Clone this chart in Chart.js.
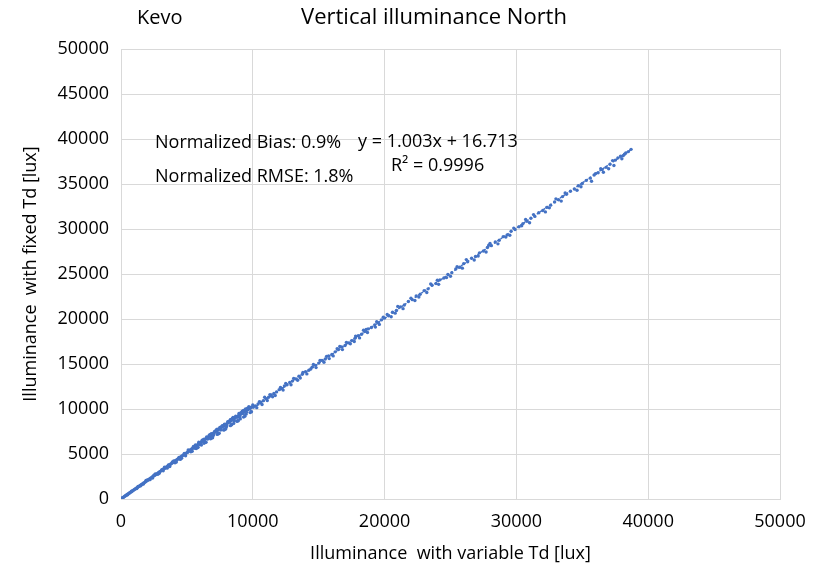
<!DOCTYPE html>
<html>
<head>
<meta charset="utf-8">
<script src="https://cdn.jsdelivr.net/npm/chart.js@4/dist/chart.umd.min.js"></script>
<style>
  html, body { margin: 0; padding: 0; background: #fff; }
  #wrap { width: 825px; height: 571px; position: relative; }
</style>
</head>
<body>
<div id="wrap"><canvas id="chart"></canvas></div>
<script>
// illuminance with variable Td [lux] (x) vs fixed Td [lux] (y)
const xVariable = [
  20, 60, 110, 150, 200, 260, 310, 370, 420, 480, 530, 590, 640, 700, 760, 810, 870, 930, 990, 1050,
  1110, 1170, 1230, 1290, 1350, 1410, 1480, 1540, 1600, 1670, 1730, 1800, 1860, 1930, 2000, 2070, 2140, 2210, 2280, 2350,
  2420, 2500, 2570, 2640, 2720, 2790, 2860, 2940, 3010, 3090, 3160, 3240, 3320, 3400, 3480, 3560, 3640, 3720, 3800, 3880,
  3960, 4040, 4120, 4210, 4290, 4370, 4460, 4540, 4630, 4710, 4800, 4890, 4970,
  1500, 2200, 2900, 3500, 4100, 4600, 3300, 4000, 2600, 1900,
  500, 800, 1200, 1300, 1700, 2000, 2400, 2500, 2800, 3100, 3200, 3600, 3700, 3900, 4200, 4400, 4500, 4800, 4900,
  5060, 5140, 5220, 5300, 5380, 5460, 5540, 5620, 5700, 5780, 5860, 5940, 6020, 6100, 6180, 6260, 6340, 6420, 6500, 6580,
  6660, 6740, 6820, 6900, 6980, 7060, 7140, 7220, 7300, 7380, 7460, 7540, 7620, 7700, 7780, 7860, 7940, 8020, 8100, 8180,
  8260, 8340, 8420, 8500, 8580, 8660, 8740, 8820, 8900, 8980, 9060, 9140, 9220, 9300, 9380, 9460, 9540, 9620, 9700, 9780,
  9860, 9940,
  5300, 5800, 6300, 6800, 7300, 7800, 8300, 8800, 9300, 9800, 6000, 7000, 8000, 9000, 9500, 8600, 7600, 6600, 5600,
  6500, 7500, 8500, 9200, 9700, 8200, 7200,
  5100, 5400, 5500, 5700, 5900, 6100, 6200, 6400, 6700, 6900, 7100, 7400, 7700, 7900, 8100, 8400, 8700, 8900, 9100, 9400,
  9600, 9900, 10000, 6300, 7300, 8300, 9300, 5200, 5950, 6850, 7650, 8450,
  5650, 6150, 6750, 7250, 7850, 8350, 8950, 9450, 9050, 8550, 7950, 7450, 6950, 6450, 5850,
  10050, 10200, 10400, 10600, 10800, 11000, 11200, 11400, 11600, 11800, 12000, 12200, 12400, 12600, 12800, 13000, 13250, 13500, 13750, 14000,
  14250, 14500, 14750, 15000, 15250, 15500, 15750, 16000, 16250, 16500, 16750, 17000, 17250, 17500, 17750, 18000, 18250, 18500, 18750, 19000,
  19250, 19500, 19750,
  10300, 10700, 11100, 11700, 12300, 12900, 13400, 14100, 14800, 15400, 16100, 16800, 17400, 18100, 18700, 19300, 10900, 12500, 14600, 16600, 18400,
  10500, 11300, 12100, 13100, 13800, 14400, 15100, 15600, 16400, 17100, 17800, 18600, 19400, 19900, 11500, 13600, 15800, 17700, 19600,
  20000, 20300, 20600, 20900, 21200, 21500, 21800, 22100, 22400, 22700, 23000, 23300, 23600, 23900, 24200, 24500, 24800, 25100, 25400, 25700,
  26000, 26300, 26600, 26900, 27200, 27500, 27800, 28100, 28400, 28700, 29000, 29300, 29600, 29900,
  20500, 21400, 22300, 23200, 24100, 25000, 25900, 26800, 27700, 28600, 29500, 21000, 23500, 26200, 28000,
  20200, 20800, 22000, 22600, 24000, 24700, 25500, 27100, 27900, 29200, 29800,
  30200, 30500, 30800, 31100, 31400, 31700, 32000, 32300, 32600, 32900, 33200, 33500, 33800, 34100, 34400, 34700, 35000, 35300, 35600, 35900,
  36200, 36500, 36800, 37100, 37300, 37500, 37700, 37900, 38100, 38300, 38700,
  31000, 32200, 33400, 34600, 35700, 36600, 37400, 38000, 30700, 33000,
  30400, 31300, 32500, 33700, 34900, 36000, 36400, 37000, 38200, 38500
];
const yFixed = [
  25, 70, 120, 165, 210, 275, 330, 385, 440, 500, 555, 610, 670, 720, 790, 840, 900, 960, 1020, 1090,
  1150, 1200, 1270, 1330, 1400, 1450, 1520, 1590, 1650, 1720, 1790, 1850, 1920, 1990, 2060, 2120, 2210, 2280, 2350, 2420,
  2500, 2570, 2650, 2720, 2790, 2880, 2950, 3020, 3100, 3180, 3260, 3330, 3410, 3500, 3580, 3660, 3750, 3830, 3920, 4000,
  4080, 4170, 4250, 4330, 4430, 4510, 4590, 4690, 4770, 4860, 4950, 5040, 5130,
  1480, 2150, 2850, 3430, 4020, 4520, 3520, 4230, 2780, 2050,
  470, 860, 1160, 1400, 1660, 2130, 2330, 2640, 2740, 3250, 3130, 3780, 3600, 4120, 4110, 4620, 4400, 5050, 4800,
  5230, 5300, 5410, 5470, 5580, 5650, 5750, 5810, 5920, 5990, 6100, 6160, 6260, 6330, 6430, 6500, 6600, 6680, 6770, 6840,
  6950, 7010, 7120, 7180, 7290, 7350, 7450, 7520, 7620, 7680, 7790, 7850, 7960, 8020, 8130, 8180, 8290, 8350, 8450, 8510,
  8620, 8680, 8780, 8830, 8940, 9000, 9100, 9150, 9260, 9310, 9410, 9470, 9560, 9620, 9710, 9770, 9860, 9920, 10010, 10070,
  10160, 10220,
  5250, 5700, 6200, 6700, 7180, 7650, 8150, 8620, 9100, 9600, 6050, 7050, 8020, 9050, 9450, 8700, 7700, 6680, 5650,
  6900, 7950, 9050, 9750, 10250, 8650, 7600,
  5450, 5300, 5850, 5600, 6300, 6000, 6550, 6300, 7100, 6800, 7500, 7250, 8150, 7750, 8600, 8250, 9200, 8700, 9600, 9200,
  10100, 9700, 10450, 6650, 7750, 8800, 9850, 5380, 6250, 7250, 8100, 8950,
  6000, 6500, 7150, 7700, 8300, 8850, 9500, 10000, 8900, 8400, 7800, 7300, 6800, 6300, 5750,
  10280, 10350, 10550, 10750, 10930, 11150, 11300, 11550, 11720, 11900, 12150, 12280, 12550, 12700, 12950, 13100, 13350, 13650, 13850, 14150,
  14300, 14650, 14850, 15100, 15400, 15550, 15900, 16050, 16350, 16600, 16900, 17050, 17350, 17600, 17850, 18150, 18300, 18600, 18900, 19050,
  19350, 19600, 19900,
  10150, 10500, 10950, 11500, 12100, 12700, 13200, 13900, 14600, 15200, 15900, 16600, 17250, 17900, 18500, 19100, 11300, 12850, 14950, 16950, 18750,
  10800, 11600, 12400, 13400, 14050, 14450, 15400, 15850, 16700, 17400, 18100, 18850, 19700, 20200, 11350, 13450, 15600, 17500, 19400,
  20100, 20350, 20750, 20950, 21350, 21550, 21950, 22150, 22550, 22750, 23150, 23350, 23750, 23950, 24350, 24550, 24950, 25150, 25550, 25750,
  26150, 26350, 26750, 26950, 27350, 27550, 27950, 28150, 28550, 28750, 29150, 29350, 29750, 29950,
  20250, 21150, 22050, 22950, 23850, 24750, 25650, 26550, 27450, 28350, 29300, 21400, 23900, 26600, 28400,
  20500, 20650, 22300, 22450, 24300, 24600, 25800, 27000, 28200, 29100, 30100,
  30250, 30600, 30850, 31200, 31400, 31800, 32050, 32400, 32650, 33000, 33250, 33600, 33850, 34200, 34450, 34800, 35050, 35400, 35650, 36000,
  36250, 36600, 36850, 37200, 37600, 37650, 37900, 38100, 38150, 38450, 38850,
  30700, 31900, 33100, 34300, 35300, 36300, 37050, 37800, 31050, 33350,
  30350, 31600, 32350, 34000, 34700, 36150, 36700, 36700, 38300, 38600
];

// linear trendline y = 1.003x + 16.713, drawn over the data range
const trendX = [0, 38700];
const trendY = [16.7, 38833.8];

const annotations = [
  { text: 'Normalized Bias: 0.9%', x: 155, y: 143 },
  { text: 'y = 1.003x + 16.713', x: 358, y: 142 },
  { text: 'R\u00B2 = 0.9996', x: 391, y: 166 },
  { text: 'Normalized RMSE: 1.8%', x: 155, y: 177 }
];

const BLUE = '#4472C4';
const GRID = '#d9d9d9';
const FONT = '"Open Sans", sans-serif';

const scatterData = xVariable.map((x, i) => ({ x, y: yFixed[i] }));
const trendData = trendX.map((x, i) => ({ x, y: trendY[i] }));

const textPlugin = {
  id: 'textLabels',
  afterDraw(chart) {
    const c = chart.ctx;
    c.save();
    c.fillStyle = '#000';
    c.textBaseline = 'middle';
    c.textAlign = 'left';
    c.font = `20px ${FONT}`;
    c.fillText('Kevo', 137, 18);
    c.textAlign = 'center';
    c.font = `22px ${FONT}`;
    c.fillText('Vertical illuminance North', 434, 18);
    c.textAlign = 'left';
    c.font = `18px ${FONT}`;
    annotations.forEach((a) => c.fillText(a.text, a.x, a.y));
    c.restore();
  }
};

new Chart(document.getElementById('chart'), {
  type: 'scatter',
  data: {
    datasets: [
      {
        data: scatterData,
        backgroundColor: BLUE,
        borderWidth: 0,
        pointRadius: 1.7
      },
      {
        data: trendData,
        showLine: true,
        borderColor: BLUE,
        borderWidth: 1.5,
        borderDash: [2, 2],
        pointRadius: 0
      }
    ]
  },
  options: {
    responsive: true,
    maintainAspectRatio: false,
    animation: false,
    layout: { padding: { top: 49, right: 45, left: 0, bottom: 6 } },
    plugins: { legend: { display: false }, tooltip: { enabled: false } },
    scales: {
      x: {
        type: 'linear',
        min: 0, max: 50000,
        afterFit: (s) => { s.height = 66; },
        grid: { color: GRID, drawTicks: false },
        border: { color: GRID },
        ticks: { stepSize: 10000, padding: 12, color: '#000', font: { family: FONT, size: 18 }, callback: (v) => String(v) },
        title: {
          display: true,
          text: 'Illuminance  with variable Td [lux]',
          color: '#000',
          font: { family: FONT, size: 18 },
          padding: { top: 2, bottom: 0 }
        }
      },
      y: {
        min: 0, max: 50000,
        afterFit: (s) => { s.width = 121; },
        grid: { color: GRID, drawTicks: false },
        border: { color: GRID },
        ticks: { stepSize: 5000, padding: 12, color: '#000', font: { family: FONT, size: 18 }, callback: (v) => String(v) },
        title: {
          display: true,
          text: 'Illuminance  with fixed Td [lux]',
          color: '#000',
          font: { family: FONT, size: 18 },
          padding: { top: 20, bottom: 0 }
        }
      }
    }
  },
  plugins: [textPlugin]
});
</script>
</body>
</html>
